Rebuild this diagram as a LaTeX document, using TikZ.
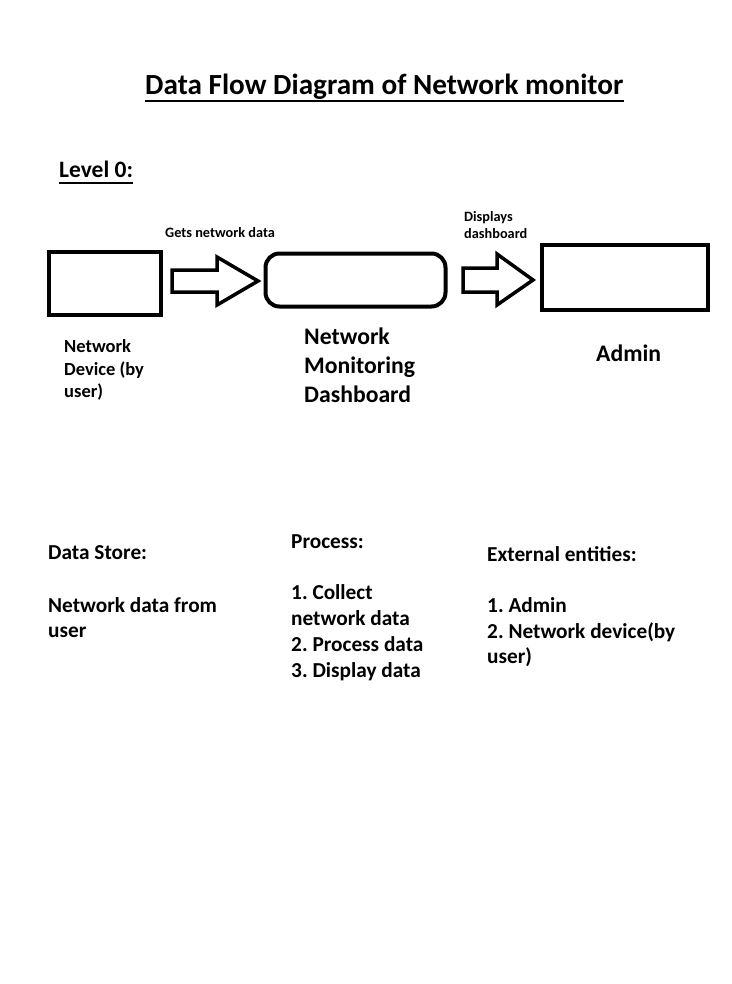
\documentclass[tikz,border=0pt]{standalone}
\usepackage{fontspec}
\setmainfont{Carlito}
\frenchspacing
\begin{document}
\begin{tikzpicture}[x=1pt,y=-1pt,
  txt/.style={anchor=base west,inner sep=0pt,font=\bfseries},
  boxline/.style={draw=black,line width=4pt},
  blockarrow/.style={draw=black,line width=3.5pt,line join=miter,fill=white}]
\useasboundingbox[fill=white] (0,0) rectangle (731,984);
% title
\node[txt,font=\bfseries\fontsize{29.2}{34}\selectfont] (title) at (145,95) {Data Flow Diagram of Network monitor};
\draw[line width=2.4pt] (title.base west) ++(0,6) -- ([yshift=-6pt]title.base east);
\node[txt,font=\bfseries\fontsize{23.5}{28}\selectfont] (level) at (59,178) {Level 0:};
\draw[line width=2pt] (level.base west) ++(0,5) -- ([yshift=-5pt]level.base east);
% boxes
\node[boxline,minimum width=112pt,minimum height=63pt,inner sep=0pt] (dev) at (105,283.5) {};
\node[boxline,rounded corners=14pt,minimum width=180pt,minimum height=53pt,inner sep=0pt] (dash) at (355.5,280) {};
\node[boxline,minimum width=166pt,minimum height=65pt,inner sep=0pt] (admin) at (625,277.5) {};
% block arrows
\coordinate (a1s) at (172,281);
\coordinate (a1t) at (258,281);
\draw[blockarrow] (a1s) ++(0,-11) -- ++(45,0) -- ++(0,-13) -- (a1t) -- (217,305) -- ++(0,-13) -- (172,292) -- cycle;
\coordinate (a2s) at (463,280);
\coordinate (a2t) at (533,280);
\draw[blockarrow] (a2s) ++(0,-12) -- ++(34,0) -- ++(0,-14) -- (a2t) -- (497,305) -- ++(0,-13) -- (463,292) -- cycle;
% arrow labels
\tikzset{small/.style={txt,font=\bfseries\fontsize{14.3}{17}\selectfont}}
\node[small] (l1) at (165,237) {Gets network data};
\node[small] (l2a) at (464,222) {Displays};
\node[small] (l2b) at (464,239) {dashboard};
% entity labels
\tikzset{mid/.style={txt,font=\bfseries\fontsize{18.5}{22}\selectfont}}
\node[mid] (d1) at (64,352) {Network};
\node[mid] (d2) at (64,375) {Device (by};
\node[mid] (d3) at (64,397) {user)};
\tikzset{big/.style={txt,font=\bfseries\fontsize{23.7}{28}\selectfont}}
\node[big] (n1) at (304,344) {Network};
\node[big] (n2) at (304,373) {Monitoring};
\node[big] (n3) at (304,402) {Dashboard};
\node[big] (ad) at (596,361) {Admin};
% legend columns
\tikzset{leg/.style={txt,font=\bfseries\fontsize{21.3}{25}\selectfont}}
\node[leg] (ds) at (48,559) {Data Store:};
\node[leg] (ds1) at (48,612) {Network data from};
\node[leg] (ds2) at (48,637) {user};
\node[leg] (pr) at (291,548) {Process:};
\node[leg] (pr1) at (291,599) {1. Collect};
\node[leg] (pr2) at (291,625) {network data};
\node[leg] (pr3) at (291,651) {2. Process data};
\node[leg] (pr4) at (291,677) {3. Display data};
\node[leg] (ex) at (487,561) {External entities:};
\node[leg] (ex1) at (487,612) {1. Admin};
\node[leg] (ex2) at (487,638) {2. Network device(by};
\node[leg] (ex3) at (487,663) {user)};
\end{tikzpicture}
\end{document}
